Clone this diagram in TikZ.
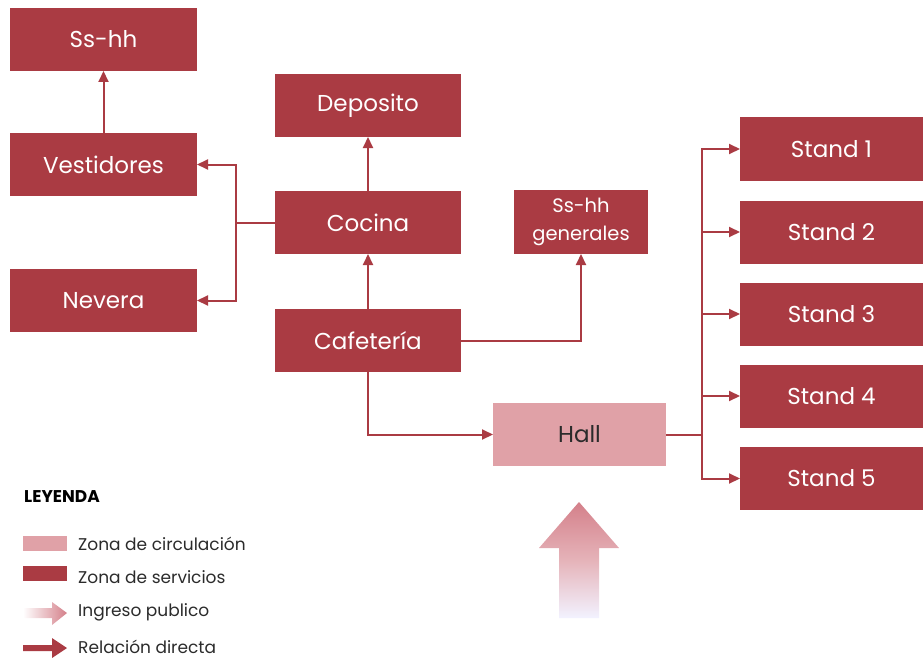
\documentclass[tikz,border=0pt]{standalone}
\usepackage{fontspec}
\setmainfont{Poppins}
\usetikzlibrary{arrows.meta}
\definecolor{servred}{HTML}{AA3B43}
\definecolor{circpink}{HTML}{E0A1A7}
\definecolor{ingpink}{HTML}{D4808A}
\definecolor{legtext}{HTML}{2B2B2B}
\begin{document}
\begin{tikzpicture}[x=1pt, y=-1pt,
    serv/.style={fill=servred, text=white, inner sep=0, outer sep=0, minimum width=187, minimum height=63, font=\fontsize{23}{26}\selectfont},
    stand/.style={serv, minimum width=183},
    circ/.style={fill=circpink, text=legtext, inner sep=0, outer sep=0, minimum width=173, minimum height=63, font=\fontsize{23}{26}\selectfont},
    rel/.style={draw=servred, line width=2pt, -{Triangle[length=11pt, width=10pt]}},
    link/.style={draw=servred, line width=2pt},
    legitem/.style={anchor=west, text=legtext, inner sep=0, font=\fontsize{17}{20}\selectfont}]
\useasboundingbox (0,0) rectangle (923,658);
%%% Start service boxes
        \node[serv] (ssh) at (103.5,39.5) {Ss-hh};
        \node[serv] (vest) at (103.5,164.5) {Vestidores};
        \node[serv] (nev) at (103.5,300.5) {Nevera};
        \node[serv, minimum width=186] (dep) at (368,105.5) {Deposito};
        \node[serv, minimum width=186] (coc) at (368,222.5) {Cocina};
        \node[serv, minimum width=186] (caf) at (368,340.5) {Cafetería};
        \node[serv, minimum width=134, minimum height=64, align=center, font=\fontsize{19.5}{28}\selectfont] (sshg) at (581,222) {Ss-hh\\generales};
%%% End service boxes
%%% Start Hall
        \node[circ] (hall) at (579.5,434.5) {Hall};
%%% End Hall
%%% Start stands
        \foreach \i/\y in {1/149, 2/232, 3/314, 4/396, 5/478.5}
          \node[stand] (st\i) at (831.5,\y) {Stand \i};
%%% End stands
%%% Start connectors
        \coordinate (jl) at (235.5,222.5);
        \coordinate (jr) at (702,434.5);
        \draw[rel] (vest.north) -- (ssh.south);
        \draw[rel] (coc.north) -- (dep.south);
        \draw[rel] (caf.north) -- (coc.south);
        \draw[link] (coc.west) -- (jl);
        \draw[rel] (jl) |- (vest.east);
        \draw[rel] (jl) |- (nev.east);
        \draw[rel] (caf.east) -| (sshg.south);
        \draw[rel] (caf.south) |- (hall.west);
        \draw[link] (hall.east) -- (jr);
        \foreach \i in {1,...,5}
          \draw[rel] (jr) |- (st\i.west);
%%% End connectors
%%% Start public entrance
        \shade[top color=ingpink, bottom color=white!95!blue, middle color=ingpink!60] (579,502) -- (619,548) -- (599,548) -- (599,618) -- (559,618) -- (559,548) -- (539,548) -- cycle;
%%% End public entrance
%%% Start legend
        \node[anchor=west, inner sep=0, text=black, font=\fontsize{17}{20}\selectfont\bfseries] (leg) at (24,497) {LEYENDA};
        \node[fill=circpink, inner sep=0, minimum width=44, minimum height=15] (lcirc) at (45,543.5) {};
        \node[fill=servred, inner sep=0, minimum width=44, minimum height=15] (lserv) at (45,573.5) {};
        \shade[left color=white, right color=ingpink] (23,608) -- (52,608) -- (52,602) -- (67,613) -- (52,625) -- (52,618) -- (23,618) -- cycle;
        \fill[servred] (23,645) -- (52,645) -- (52,638) -- (67,648) -- (52,658) -- (52,651) -- (23,651) -- cycle;
        \node[legitem] (tcirc) at (78,543.5) {Zona de circulación};
        \node[legitem] (tserv) at (78,577) {Zona de servicios};
        \node[legitem] (ting) at (78,612) {Ingreso publico};
        \node[legitem] (trel) at (78,647) {Relación directa};
%%% End legend
\end{tikzpicture}
\end{document}
